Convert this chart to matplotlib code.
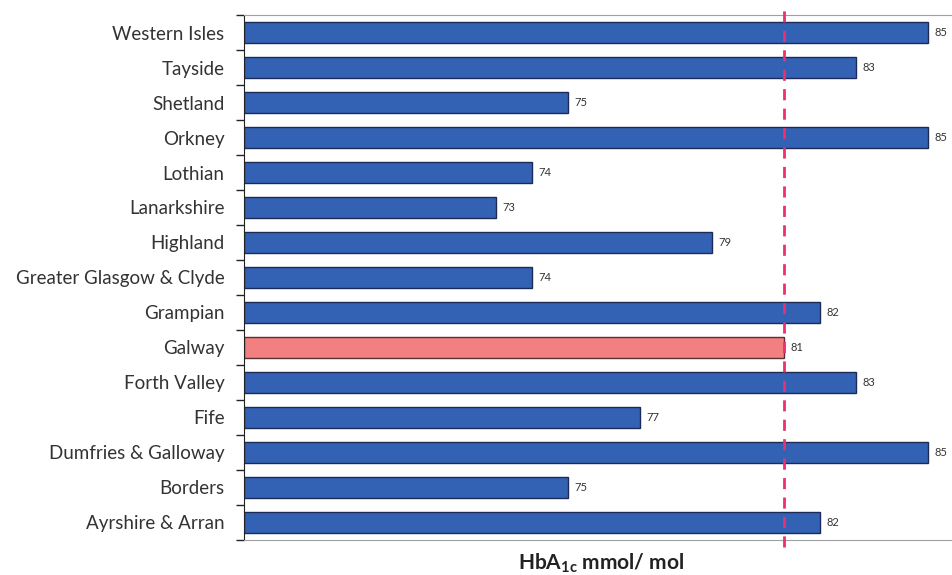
import matplotlib.pyplot as plt
import numpy as np

plt.rcParams['font.family'] = ['Lato', 'DejaVu Sans']
plt.rcParams['mathtext.fontset'] = 'custom'
plt.rcParams['mathtext.rm'] = 'Lato'
plt.rcParams['mathtext.bf'] = 'Lato:bold'

regions = ['Western Isles', 'Tayside', 'Shetland', 'Orkney', 'Lothian', 'Lanarkshire',
           'Highland', 'Greater Glasgow & Clyde', 'Grampian', 'Galway', 'Forth Valley',
           'Fife', 'Dumfries & Galloway', 'Borders', 'Ayrshire & Arran']
hba1c = [85, 83, 75, 85, 74, 73, 79, 74, 82, 81, 83, 77, 85, 75, 82]
highlight = 'Galway'
reference_value = 81

fig = plt.figure(figsize=(9.53, 5.75), dpi=100)
ax = fig.add_axes([0.256, 0.0609, 0.744, 0.9130])

y = np.arange(len(regions))
x0 = 66
colors = ['#f28080' if r == highlight else '#3362b4' for r in regions]
edges = ['#5a3030' if r == highlight else '#1c2a55' for r in regions]
widths = [v - x0 for v in hba1c]
ax.barh(y, widths, left=x0, height=0.6, color=colors, edgecolor=edges, linewidth=1.0, zorder=2)

for yi, v in zip(y, hba1c):
    ax.text(v + 0.18, yi, str(v), va='center', ha='left', fontsize=8, color='#333333')

ax.axvline(reference_value, ymin=-0.014, ymax=1.014, color='#ec2f6e', linestyle=(0, (4, 3)),
           linewidth=2, clip_on=False, zorder=3)

ax.set_xlim(x0, 85.7)
ax.set_ylim(len(regions) - 0.5, -0.5)
ax.set_yticks(y)
ax.set_yticklabels(regions, fontsize=13.5, color='#333333')
ax.tick_params(axis='y', which='major', length=0, pad=14)
ax.set_yticks(np.arange(-0.5, len(regions), 1), minor=True)
ax.tick_params(axis='y', which='minor', length=6, width=1, color='#222222')
ax.set_xticks([])

ax.spines['right'].set_visible(False)
ax.spines['top'].set_color('#a0a0a0')
ax.spines['bottom'].set_color('#a0a0a0')
ax.spines['left'].set_color('#222222')

fig.text(0.631, 0.02, r'HbA$_{\mathbf{1c}}$ mmol/ mol', ha='center', va='center',
         fontsize=15, fontweight='bold', color='#222222')

fig.savefig('out.png', dpi=100)
